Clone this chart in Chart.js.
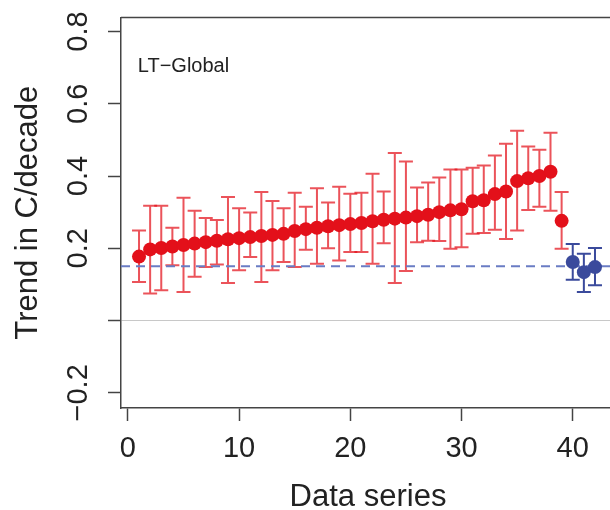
<!DOCTYPE html>
<html>
<head>
<meta charset="utf-8">
<script src="https://cdn.jsdelivr.net/npm/chart.js@4"></script>
<style>
  html, body { margin: 0; padding: 0; background: #fff; overflow: hidden; }
  #wrap { width: 622px; height: 510px; position: relative; }
</style>
</head>
<body>
<div id="wrap"><canvas id="chart"></canvas></div>
<script>
  // Red series (data series 1-39)
  const redX = [1, 2, 3, 4, 5, 6, 7, 8, 9, 10, 11, 12, 13, 14, 15, 16, 17, 18, 19, 20,
                21, 22, 23, 24, 25, 26, 27, 28, 29, 30, 31, 32, 33, 34, 35, 36, 37, 38, 39];
  const redTrend = [0.177, 0.197, 0.201, 0.205, 0.209, 0.213, 0.217, 0.221, 0.225, 0.228,
                    0.231, 0.234, 0.237, 0.240, 0.248, 0.253, 0.257, 0.261, 0.264, 0.267,
                    0.270, 0.275, 0.279, 0.282, 0.285, 0.289, 0.293, 0.300, 0.305, 0.308,
                    0.330, 0.333, 0.350, 0.357, 0.386, 0.394, 0.400, 0.412, 0.276];
  const redLow = [0.107, 0.075, 0.084, 0.153, 0.079, 0.121, 0.148, 0.155, 0.104, 0.139,
                  0.176, 0.107, 0.139, 0.162, 0.148, 0.196, 0.157, 0.200, 0.166, 0.190,
                  0.190, 0.157, 0.214, 0.104, 0.137, 0.217, 0.221, 0.220, 0.199, 0.203,
                  0.240, 0.242, 0.251, 0.226, 0.249, 0.306, 0.315, 0.304, 0.199];
  const redHigh = [0.249, 0.318, 0.318, 0.257, 0.340, 0.304, 0.284, 0.278, 0.342, 0.311,
                   0.299, 0.356, 0.331, 0.311, 0.354, 0.315, 0.366, 0.327, 0.370, 0.351,
                   0.354, 0.406, 0.357, 0.464, 0.440, 0.368, 0.382, 0.396, 0.418, 0.418,
                   0.423, 0.429, 0.457, 0.489, 0.525, 0.482, 0.473, 0.520, 0.356];

  // Blue series (data series 40-42)
  const blueX = [40, 41, 42];
  const blueTrend = [0.162, 0.134, 0.148];
  const blueLow = [0.113, 0.079, 0.098];
  const blueHigh = [0.212, 0.185, 0.201];

  const refLevel = 0.15;
  const xTicks = [0, 10, 20, 30, 40];
  const yTicks = [-0.2, 0, 0.2, 0.4, 0.6, 0.8];
  const xMin = -0.62, xMax = 43.8;
  const yMin = -0.242, yMax = 0.839;
  const panelLabel = 'LT\u2212Global';
  const panelLabelPos = { x: 0.89, y: 0.703 };

  const RED = '#e3101a';
  const RED_BAR = 'rgba(227, 16, 26, 0.72)';
  const BLUE = '#3a4a9c';
  const AXIS = '#444';
  const FONT = '"Liberation Sans", Arial, Helvetica, sans-serif';

  function toPoints(xs, ys) {
    return xs.map((x, i) => ({ x: x, y: ys[i] }));
  }

  // Error bars and the panel label
  const errorBars = {
    id: 'errorBars',
    beforeDatasetsDraw(chart) {
      const { ctx, scales: { x, y } } = chart;
      const drawBars = (xs, lo, hi, color) => {
        ctx.save();
        ctx.strokeStyle = color;
        ctx.lineWidth = 2;
        xs.forEach((v, i) => {
          const px = x.getPixelForValue(v);
          const top = y.getPixelForValue(hi[i]);
          const bot = y.getPixelForValue(lo[i]);
          ctx.beginPath();
          ctx.moveTo(px, top); ctx.lineTo(px, bot);
          ctx.moveTo(px - 7, top); ctx.lineTo(px + 7, top);
          ctx.moveTo(px - 7, bot); ctx.lineTo(px + 7, bot);
          ctx.stroke();
        });
        ctx.restore();
      };
      drawBars(redX, redLow, redHigh, RED_BAR);
      drawBars(blueX, blueLow, blueHigh, BLUE);
    },
    afterDraw(chart) {
      const { ctx, chartArea, scales: { x, y } } = chart;
      ctx.save();
      // top of the box
      ctx.strokeStyle = AXIS;
      ctx.lineWidth = 1.5;
      ctx.beginPath();
      ctx.moveTo(chartArea.left, chartArea.top);
      ctx.lineTo(chartArea.right, chartArea.top);
      ctx.stroke();
      // panel label
      ctx.fillStyle = '#222';
      ctx.font = '20px ' + FONT;
      ctx.textAlign = 'left';
      ctx.textBaseline = 'middle';
      ctx.fillText(panelLabel, x.getPixelForValue(panelLabelPos.x), y.getPixelForValue(panelLabelPos.y));
      ctx.restore();
    }
  };

  new Chart(document.getElementById('chart'), {
    type: 'scatter',
    data: {
      datasets: [
        {
          data: toPoints(redX, redTrend),
          backgroundColor: RED,
          borderColor: RED,
          pointRadius: 7,
          pointBorderWidth: 0
        },
        {
          data: toPoints(blueX, blueTrend),
          backgroundColor: BLUE,
          borderColor: BLUE,
          pointRadius: 7,
          pointBorderWidth: 0
        },
        {
          type: 'line',
          data: [{ x: xMin, y: refLevel }, { x: xMax, y: refLevel }],
          borderColor: '#6a7cc4',
          borderWidth: 2,
          borderDash: [9, 6],
          pointRadius: 0,
          fill: false
        }
      ]
    },
    options: {
      responsive: true,
      maintainAspectRatio: false,
      animation: false,
      layout: { padding: { top: 15, left: 0, right: 0, bottom: 0 } },
      plugins: {
        legend: { display: false },
        tooltip: { enabled: false }
      },
      scales: {
        x: {
          type: 'linear',
          min: xMin,
          max: xMax,
          afterBuildTicks: scale => { scale.ticks = xTicks.map(v => ({ value: v })); },
          afterFit: scale => { scale.height = 102; },
          border: { display: true, color: AXIS, width: 1.5 },
          grid: { drawOnChartArea: false, drawTicks: true, tickLength: 13, tickColor: AXIS, tickWidth: 1.5 },
          ticks: {
            autoSkip: false,
            maxRotation: 0,
            padding: 11,
            color: '#222',
            font: { family: FONT, size: 29 },
            callback: v => String(v)
          },
          title: {
            display: true,
            text: 'Data series',
            color: '#222',
            font: { family: FONT, size: 31, lineHeight: 0.8 },
            padding: { top: 0, bottom: 0 }
          }
        },
        y: {
          type: 'linear',
          min: yMin,
          max: yMax,
          afterBuildTicks: scale => { scale.ticks = yTicks.map(v => ({ value: v })); },
          afterFit: scale => { scale.width = 121; },
          border: { display: true, color: AXIS, width: 1.5 },
          grid: {
            drawOnChartArea: true,
            drawTicks: true,
            tickLength: 13,
            tickColor: AXIS,
            tickWidth: 1.5,
            lineWidth: 1,
            color: c => (c.tick && c.tick.value === 0 ? '#c8c8c8' : 'rgba(0,0,0,0)')
          },
          ticks: {
            autoSkip: false,
            minRotation: 90,
            maxRotation: 90,
            crossAlign: 'center',
            padding: 0,
            color: '#222',
            font: { family: FONT, size: 29 },
            callback: v => (v === 0 ? '' : v.toFixed(1).replace('-', '\u2212'))
          },
          title: {
            display: true,
            text: 'Trend in C/decade',
            color: '#222',
            font: { family: FONT, size: 31, lineHeight: 0.8 },
            padding: { top: 16, bottom: 0 }
          }
        }
      }
    },
    plugins: [errorBars]
  });
</script>
</body>
</html>
